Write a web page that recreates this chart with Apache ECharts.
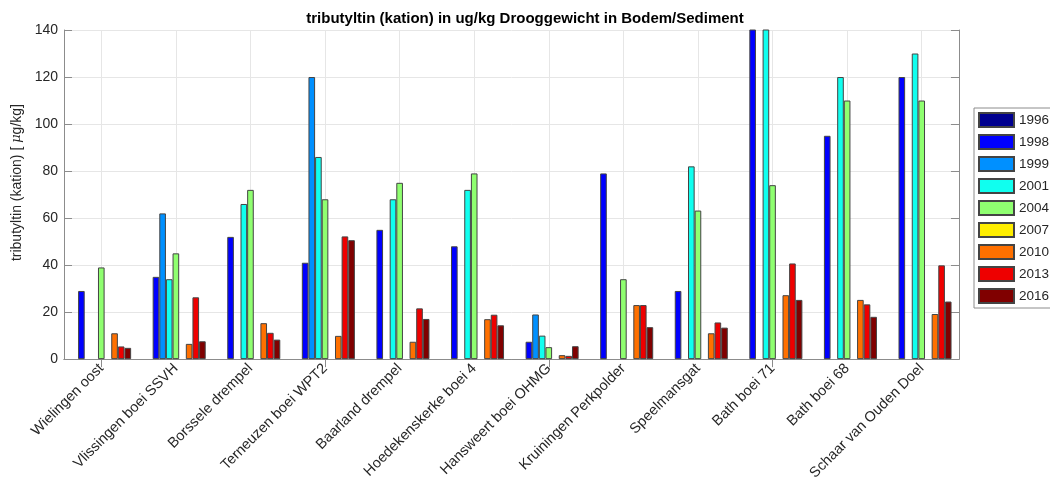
<!DOCTYPE html>
<html>
<head>
<meta charset="utf-8">
<script src="https://cdn.jsdelivr.net/npm/echarts@6/dist/echarts.min.js"></script>
<style>
  html, body { margin: 0; padding: 0; background: #fff; }
  #chart { width: 1050px; height: 483px; }
</style>
</head>
<body>
<div id="chart"></div>
<script>
// Measuring stations along the Westerschelde
const stations = [
  'Wielingen oost', 'Vlissingen boei SSVH', 'Borssele drempel', 'Terneuzen boei WPT2',
  'Baarland drempel', 'Hoedekenskerke boei 4', 'Hansweert boei OHMG', 'Kruiningen Perkpolder',
  'Speelmansgat', 'Bath boei 71', 'Bath boei 68', 'Schaar van Ouden Doel'
];

// Sampling years (legend order)
const years = ['1996', '1998', '1999', '2001', '2004', '2007', '2010', '2013', '2016'];

// TBT (cation) in ug/kg dry weight per station, one array per year
const v1996 = [null, null, null, null, null, null, null, null, null, null, null, null];
const v1998 = [29, 35, 52, 41, 55, 48, 7.4, 79, 29, 155, 95, 120];
const v1999 = [null, 62, null, 120, null, null, 19, null, null, null, null, null];
const v2001 = [null, 34, 66, 86, 68, 72, 10, null, 82, 150, 120, 130];
const v2004 = [39, 45, 72, 68, 75, 79, 5.1, 34, 63.2, 74, 110, 110];
const v2007 = [null, null, null, null, null, null, null, null, null, null, null, null];
const v2010 = [11, 6.5, 15.3, 9.9, 7.4, 17, 1.7, 23, 11, 27.2, 25.2, 19.2];
const v2013 = [5.4, 26.3, 11.2, 52.2, 21.6, 18.9, 1.4, 23, 15.6, 40.7, 23.3, 39.9];
const v2016 = [4.8, 7.6, 8.3, 50.6, 17.1, 14.4, 5.5, 13.6, 13.4, 25.2, 18, 24.5];

const seriesValues = [v1996, v1998, v1999, v2001, v2004, v2007, v2010, v2013, v2016];

// jet colour map, one colour per year
const yearColors = ['#00008f', '#0000ff', '#0090ff', '#10ffef', '#8fff70',
                    '#ffee00', '#ff7000', '#ee0000', '#800000'];

const FONT = '"Liberation Sans", Arial, Helvetica, sans-serif';
const AXIS_GRAY = '#8c8c8c';
const GRID_GRAY = '#e6e6e6';
const TEXT = '#262626';

const chart = echarts.init(document.getElementById('chart'), null, { renderer: 'canvas' });

const series = years.map((y, i) => ({
  name: y,
  type: 'bar',
  xAxisIndex: 0,
  yAxisIndex: 0,
  data: seriesValues[i],
  barGap: '0%',
  barCategoryGap: '20%',
  clip: true,
  itemStyle: { color: yearColors[i], borderColor: '#444', borderWidth: 1 },
  emphasis: { disabled: true }
}));

chart.setOption({
  animation: false,
  textStyle: { fontFamily: FONT },
  title: {
    text: 'tributyltin (kation) in ug/kg Drooggewicht in Bodem/Sediment',
    left: 'center',
    top: 11,
    padding: [0, 27, 0, 0],
    textStyle: { fontFamily: FONT, fontSize: 15, fontWeight: 'bold', color: '#000' }
  },
  legend: {
    orient: 'vertical',
    left: 974,
    top: 108,
    padding: [4, 3, 4, 4],
    itemWidth: 35,
    itemHeight: 14,
    itemGap: 6,
    borderColor: AXIS_GRAY,
    borderWidth: 1,
    backgroundColor: '#fff',
    icon: 'rect',
    selectedMode: false,
    textStyle: { fontFamily: FONT, fontSize: 13.5, color: TEXT, lineHeight: 14 },
    data: years
  },
  grid: { left: 64, right: 91, top: 30, bottom: 123, containLabel: false },
  xAxis: [
    {
      type: 'category',
      data: stations,
      position: 'bottom',
      boundaryGap: true,
      axisLine: { show: true, lineStyle: { color: AXIS_GRAY } },
      axisTick: { show: true, inside: true, length: 8, alignWithLabel: true, lineStyle: { color: AXIS_GRAY } },
      axisLabel: { rotate: 45, margin: 7, fontSize: 14.5, color: TEXT, fontFamily: FONT, interval: 0 },
      splitLine: { show: true, alignWithLabel: true, lineStyle: { color: GRID_GRAY } }
    },
    {
      type: 'category',
      data: stations,
      position: 'top',
      boundaryGap: true,
      axisLine: { show: true, lineStyle: { color: AXIS_GRAY } },
      axisTick: { show: true, inside: true, length: 8, alignWithLabel: true, lineStyle: { color: AXIS_GRAY } },
      axisLabel: { show: false },
      splitLine: { show: false }
    }
  ],
  yAxis: [
    {
      type: 'value',
      min: 0,
      max: 140,
      interval: 20,
      position: 'left',
      name: '{a|tributyltin (kation) [ }{b|\u03bc}{a|g/kg]}',
      nameLocation: 'middle',
      nameGap: 33,
      nameTextStyle: {
        padding: [0, 0, 0, 24],
        rich: {
          a: { fontFamily: FONT, fontSize: 14, color: TEXT },
          b: { fontFamily: '"DejaVu Serif", serif', fontSize: 13, fontStyle: 'italic', color: TEXT }
        }
      },
      axisLine: { show: true, lineStyle: { color: AXIS_GRAY } },
      axisTick: { show: true, inside: true, length: 8, lineStyle: { color: AXIS_GRAY } },
      axisLabel: { fontSize: 14, color: TEXT, margin: 6, fontFamily: FONT },
      splitLine: { show: true, lineStyle: { color: GRID_GRAY } }
    },
    {
      type: 'value',
      min: 0,
      max: 140,
      interval: 20,
      position: 'right',
      axisLine: { show: true, lineStyle: { color: AXIS_GRAY } },
      axisTick: { show: true, inside: true, length: 8, lineStyle: { color: AXIS_GRAY } },
      axisLabel: { show: false },
      splitLine: { show: false }
    }
  ],
  series: series
});
</script>
</body>
</html>
